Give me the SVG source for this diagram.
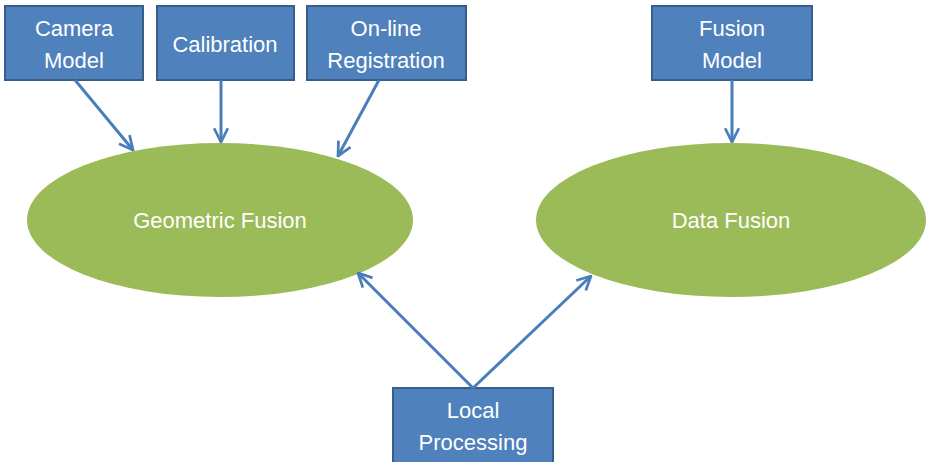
<svg xmlns="http://www.w3.org/2000/svg" width="928" height="462" viewBox="0 0 928 462">
<defs>
<style>
.box{fill:#4F81BD;stroke:#385D8A;stroke-width:2}
.ell{fill:#9BBB59}
.t{font-family:"Liberation Sans",Arial,sans-serif;font-size:22px;fill:#FFFFFF;text-anchor:middle}
.c{stroke:#4A7EBB;stroke-width:3;fill:none}
</style>
<marker id="ah" viewBox="0 0 12 12" refX="11" refY="6" markerWidth="5.5" markerHeight="5.5" orient="auto" markerUnits="strokeWidth">
<path d="M1,1 L11,6 L1,11" fill="none" stroke="#4A7EBB" stroke-width="2"/>
</marker>
</defs>
<rect width="928" height="462" fill="#FFFFFF"/>
<g id="geometric-fusion"><ellipse class="ell" cx="220" cy="220" rx="193" ry="77"/><text class="t" x="220" y="228">Geometric Fusion</text></g>
<g id="data-fusion"><ellipse class="ell" cx="731" cy="220" rx="195" ry="77"/><text class="t" x="731" y="228">Data Fusion</text></g>
<g id="camera-model"><rect class="box" x="5" y="6" width="138" height="74"/><text class="t" x="74" y="36">Camera</text><text class="t" x="74" y="68">Model</text></g>
<g id="calibration"><rect class="box" x="157" y="6" width="137" height="74"/><text class="t" x="225" y="52">Calibration</text></g>
<g id="online-registration"><rect class="box" x="307" y="6" width="159" height="74"/><text class="t" x="386" y="36">On-line</text><text class="t" x="386" y="68">Registration</text></g>
<g id="fusion-model"><rect class="box" x="652" y="6" width="160" height="74"/><text class="t" x="732" y="36">Fusion</text><text class="t" x="732" y="68">Model</text></g>
<g id="local-processing"><rect class="box" x="393" y="388" width="160" height="80"/><text class="t" x="473" y="418">Local</text><text class="t" x="473" y="450">Processing</text></g>
<g id="connectors">
<line class="c" x1="75" y1="80" x2="133" y2="150" marker-end="url(#ah)"/>
<line class="c" x1="221" y1="80" x2="221" y2="142" marker-end="url(#ah)"/>
<line class="c" x1="379" y1="80" x2="338" y2="156" marker-end="url(#ah)"/>
<line class="c" x1="732" y1="80" x2="732" y2="142" marker-end="url(#ah)"/>
<line class="c" x1="473" y1="388" x2="358" y2="273" marker-end="url(#ah)"/>
<line class="c" x1="473" y1="388" x2="591" y2="276" marker-end="url(#ah)"/>
</g>
</svg>
